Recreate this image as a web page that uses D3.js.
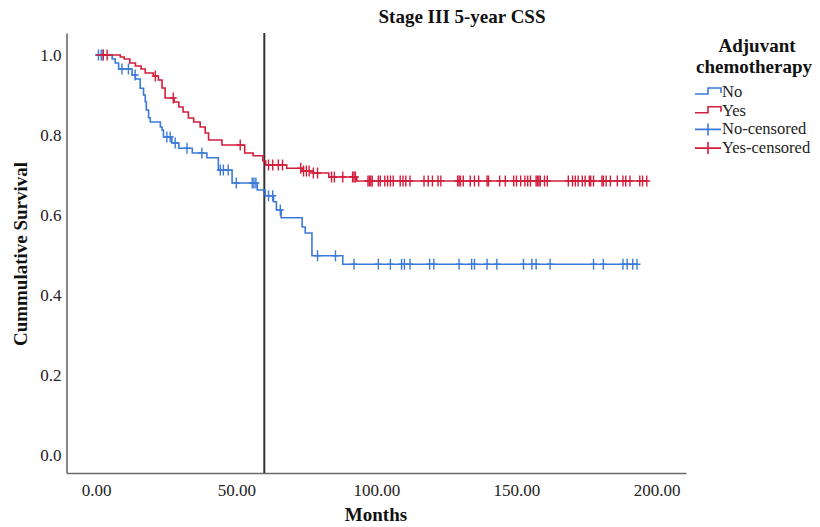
<!DOCTYPE html>
<html>
<head>
<meta charset="utf-8">
<script src="https://cdn.jsdelivr.net/npm/d3@7"></script>
<style>
  body { margin: 0; background: #fff; }
  svg { display: block; font-family: "Liberation Serif", "Times New Roman", serif; }
  svg text { font-family: "Liberation Serif", "Times New Roman", serif; }
</style>
</head>
<body>
<svg id="km" width="820" height="527"></svg>
<script>
// step drops: time (months) and survival after the drop
var noTimes = [5.7, 6.8, 8, 12.8, 14, 15.7, 16.9, 17.5, 17.9, 18.7, 19.3, 22.9, 23.5, 24, 27, 29.5, 34.3, 39.5, 43.6, 48.5, 57.5, 60.3, 63.3, 64.3, 66, 73.5, 74.6, 77, 88];
var noSurv  = [0.99, 0.98, 0.965, 0.95, 0.94, 0.917, 0.9, 0.883, 0.8625, 0.843, 0.8325, 0.82, 0.8125, 0.795, 0.78, 0.767, 0.755, 0.743, 0.7125, 0.68, 0.6625, 0.648, 0.633, 0.6125, 0.593, 0.57, 0.555, 0.498, 0.477];
var noEnd = 193;
var noCensored = [0.8, 1.8, 2.5, 9.2, 11.5, 13.9, 25.2, 26.4, 28.2, 32.4, 37.7, 44.3, 45.4, 47.1, 50, 55.7, 56.3, 57, 61.5, 63, 65.7, 79, 85.4, 92, 100.7, 105, 109, 110, 112, 119, 120.5, 129.5, 134, 135, 139.5, 143, 152.5, 155.5, 157, 162, 177.5, 181, 188, 189.5, 191.5, 193];

var yesTimes = [8.6, 10, 12, 14, 16, 17.5, 20.4, 22.2, 23.5, 24.6, 27.8, 29.5, 31, 32.9, 34.8, 37.1, 38.9, 40.1, 44.9, 53, 56, 59.5, 60.5, 68, 73.5, 77.5, 83, 93];
var yesSurv  = [0.995, 0.99, 0.98, 0.9725, 0.965, 0.955, 0.9475, 0.9375, 0.9175, 0.8925, 0.8825, 0.87, 0.8575, 0.8425, 0.8325, 0.82, 0.805, 0.7875, 0.775, 0.755, 0.748, 0.735, 0.725, 0.717, 0.71, 0.705, 0.695, 0.685];
var yesEnd = 196.5;
var yesCensored = [2.5, 3.9, 21.1, 27.5, 51.4, 61.5, 63, 65, 66.5, 73, 74, 75, 76, 77.5, 79, 84, 85, 88, 91.5, 92, 92.5, 97, 97.5, 98, 98.5, 100.7, 101.4, 103, 104, 105, 106, 108.5, 109.5, 110.5, 112, 117, 118.5, 120, 122, 123, 129, 129.5, 130, 131, 133.5, 135, 136.5, 139.5, 140, 144, 146, 149, 150, 151.5, 153, 154, 155, 157, 157.5, 158, 158.5, 160, 161, 168.5, 170, 171, 172, 173.5, 174.5, 176, 176.5, 177.5, 180.5, 181, 182, 183.5, 186, 188, 189, 190.5, 194, 195, 196.5];

var xTicks = [0, 50, 100, 150, 200];
var yTicks = [0, 0.2, 0.4, 0.6, 0.8, 1.0];
var groups = ['No', 'Yes'];

(function(){
    var svg = d3.select('#km'),
        serif = '"Liberation Serif", "Times New Roman", serif',
        blue = '#3b7ad8',
        red = '#d21e3c';

    var x = d3.scaleLinear().domain([-10.6, 210.5]).range([66.5, 686]);
    var y = d3.scaleLinear().domain([-0.045, 1.055]).range([473, 33]);

    var series = [
        { name: groups[0], times: noTimes, surv: noSurv, end: noEnd, cens: noCensored, color: blue },
        { name: groups[1], times: yesTimes, surv: yesSurv, end: yesEnd, cens: yesCensored, color: red }
    ];

    function survAt(s, t) {
        var i = d3.bisectRight(s.times, t);
        return i === 0 ? 1 : s.surv[i - 1];
    }

    // axes
    var xAxis = svg.append('g')
        .attr('transform', 'translate(0,473)')
        .call(d3.axisBottom(x).tickValues(xTicks).tickSize(0).tickSizeOuter(0).tickPadding(10)
            .tickFormat(d3.format('.2f')));
    var yAxis = svg.append('g')
        .attr('transform', 'translate(66.5,0)')
        .call(d3.axisLeft(y).tickValues(yTicks).tickSize(0).tickSizeOuter(0).tickPadding(5)
            .tickFormat(d3.format('.1f')));

    [xAxis, yAxis].forEach(function(a) {
        a.attr('font-family', serif).attr('font-size', 17);
        a.select('.domain').attr('stroke', '#6a6a6a').attr('stroke-width', 1.6);
        a.selectAll('text')
            .style('font-family', serif)
            .attr('font-size', 17)
            .attr('fill', '#222');
    });
    xAxis.selectAll('text').attr('dy', '0.75em').attr('y', 10);

    // reference line at 60 months
    svg.append('line')
        .attr('x1', x(60)).attr('x2', x(60))
        .attr('y1', y.range()[1]).attr('y2', y.range()[0])
        .attr('stroke', '#333').attr('stroke-width', 2);

    var line = d3.line()
        .x(function(d) { return x(d[0]); })
        .y(function(d) { return y(d[1]); })
        .curve(d3.curveStepAfter);

    series.forEach(function(s) {
        var pts = [[0, 1]];
        s.times.forEach(function(t, i) { pts.push([t, s.surv[i]]); });
        pts.push([s.end, s.surv[s.surv.length - 1]]);

        svg.append('path')
            .datum(pts)
            .attr('fill', 'none')
            .attr('stroke', s.color)
            .attr('stroke-width', 1.6)
            .attr('d', line);

        var marks = svg.append('g').attr('class', 'cens-' + s.name);
        marks.selectAll('path')
            .data(s.cens)
            .enter().append('path')
            .attr('fill', 'none')
            .attr('stroke', s.color)
            .attr('stroke-width', 1.4)
            .attr('d', function(t) {
                var cx = x(t), cy = y(survAt(s, t));
                return 'M' + (cx - 3.5) + ',' + cy + 'H' + (cx + 3.5) +
                       'M' + cx + ',' + (cy - 5.5) + 'V' + (cy + 5.5);
            });
    });

    // titles
    svg.append('text')
        .attr('x', 462).attr('y', 23)
        .attr('text-anchor', 'middle')
        .attr('font-weight', 'bold').attr('font-size', 19)
        .attr('fill', '#111')
        .text('Stage III 5-year CSS');

    svg.append('text')
        .attr('x', 376).attr('y', 521)
        .attr('text-anchor', 'middle')
        .attr('font-weight', 'bold').attr('font-size', 19)
        .attr('fill', '#111')
        .text('Months');

    svg.append('text')
        .attr('transform', 'translate(27,254) rotate(-90)')
        .attr('text-anchor', 'middle')
        .attr('font-weight', 'bold').attr('font-size', 19)
        .attr('fill', '#111')
        .text('Cummulative Survival');

    // legend
    var legend = svg.append('g');
    legend.append('text')
        .attr('x', 757).attr('y', 52)
        .attr('text-anchor', 'middle')
        .attr('font-weight', 'bold').attr('font-size', 19)
        .attr('fill', '#111')
        .text('Adjuvant');
    legend.append('text')
        .attr('x', 754).attr('y', 73)
        .attr('text-anchor', 'middle')
        .attr('font-weight', 'bold').attr('font-size', 19)
        .attr('fill', '#111')
        .text('chemotherapy');

    var items = [
        { label: 'No', color: blue, kind: 'line' },
        { label: 'Yes', color: red, kind: 'line' },
        { label: 'No-censored', color: blue, kind: 'cens' },
        { label: 'Yes-censored', color: red, kind: 'cens' }
    ];

    var item = legend.selectAll('g.item')
        .data(items)
        .enter().append('g')
        .attr('class', 'item')
        .attr('transform', function(d, i) { return 'translate(0,' + (92 + i * 18.7) + ')'; });

    item.append('path')
        .attr('fill', 'none')
        .attr('stroke', function(d) { return d.color; })
        .attr('stroke-width', 1.6)
        .attr('d', function(d) {
            if (d.kind === 'line') return 'M695,2H708V-4H721V1';
            return 'M695,0H721M708,-6V6';
        });

    item.append('text')
        .attr('x', 722).attr('y', 5)
        .attr('font-size', 16.5)
        .attr('fill', '#222')
        .text(function(d) { return d.label; });
})();
</script>
</body>
</html>
